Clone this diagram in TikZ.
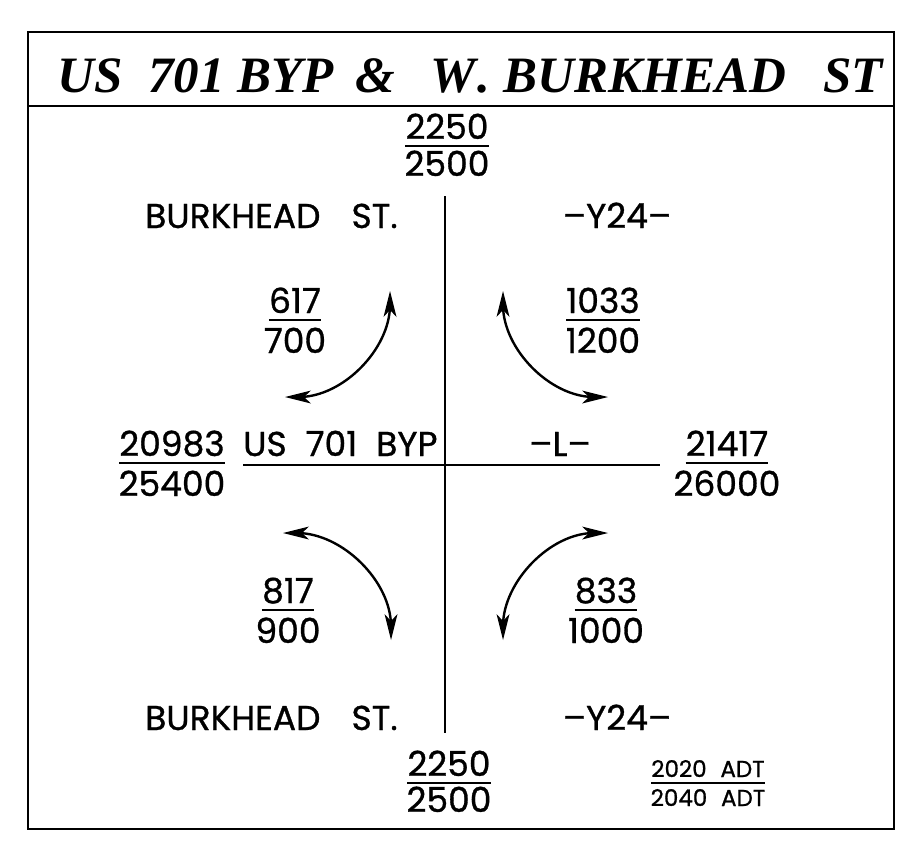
\documentclass[tikz,border=0pt]{standalone}
\usepackage{fontspec}
\setmainfont{Liberation Serif}
\newfontfamily\pop{Poppins}[FakeBold=0.9]
\tikzset{
  road/.style={line width=2.4pt},
  frame/.style={line width=2.6pt},
  lbl/.style={inner sep=0pt, font=\pop\fontsize{34.5}{34.5}\selectfont},
  small/.style={inner sep=0pt, font=\pop\fontsize{23}{23}\selectfont},
  ttl/.style={inner sep=0pt, anchor=base west, font=\bfseries\itshape\fontsize{51}{51}\selectfont},
  bar/.style={line width=1.8pt},
  turn/.style={line width=2.4pt, shorten <=14pt, shorten >=14pt},
  headfill/.style={fill=black}
}
\begin{document}
\begin{tikzpicture}[x=1pt,y=-1pt]
\useasboundingbox (0,0) rectangle (914,846);
% frame
\draw[frame] (28,32) rectangle (894,829);
\draw[frame] (28,106) -- (894,106);
% title
\node[ttl] (t1) at (57,92) {US};
\node[ttl] (t2) at (148,92) {701 BYP};
\node[ttl] (t3) at (355,92) {\&};
\node[ttl] (t4) at (430,92) {W\kern0.04em.};
\node[ttl] (t5) at (503,92) {BURKHEAD};
\node[ttl,anchor=base east] (t6) at (883,92) {ST};
% roads
\coordinate (vt) at (445,196);
\coordinate (vb) at (445,733);
\coordinate (hl) at (243,465);
\coordinate (hr) at (660,465);
\draw[road] (vt) -- (vb);
\draw[road] (hl) -- (hr);
% road labels
\node[lbl,anchor=base west] (bt) at (145,228) {BURKHEAD\hspace{0.9em}ST.};
\node[lbl,anchor=base] (yt) at (617,228) {–Y24–};
\node[lbl,anchor=base west] (us) at (243,456) {US\hspace{0.55em}701\hspace{0.55em}BYP};
\node[lbl,anchor=base] (ll) at (560,456) {–L–};
\node[lbl,anchor=base west] (bb) at (145,730) {BURKHEAD\hspace{0.9em}ST.};
\node[lbl,anchor=base] (yb) at (617,730) {–Y24–};
% volumes
\node[lbl,anchor=base] (n1a) at (447,139) {2250};
\node[lbl,anchor=base] (n1b) at (447,176) {2500};
\node[lbl,anchor=base] (n2a) at (295,313) {617};
\node[lbl,anchor=base] (n2b) at (295,353) {700};
\node[lbl,anchor=base] (n3a) at (603,313) {1033};
\node[lbl,anchor=base] (n3b) at (603,353) {1200};
\node[lbl,anchor=base] (n4a) at (172,456) {20983};
\node[lbl,anchor=base] (n4b) at (172,496) {25400};
\node[lbl,anchor=base] (n5a) at (727,456) {21417};
\node[lbl,anchor=base] (n5b) at (727,496) {26000};
\node[lbl,anchor=base] (n6a) at (288,603) {817};
\node[lbl,anchor=base] (n6b) at (288,643) {900};
\node[lbl,anchor=base] (n7a) at (606,603) {833};
\node[lbl,anchor=base] (n7b) at (606,643) {1000};
\node[lbl,anchor=base] (n8a) at (449,776) {2250};
\node[lbl,anchor=base] (n8b) at (449,812) {2500};
\node[small,anchor=base] (ka) at (708,777) {2020\hspace{0.6em}ADT};
\node[small,anchor=base] (kb) at (708,806) {2040\hspace{0.6em}ADT};
\foreach \n/\d in {n1a/7,n2a/7,n3a/7,n4a/7,n5a/7,n6a/7,n7a/7,n8a/7,ka/6}
  \draw[bar] ([yshift=-\d pt]\n.base west) -- ([yshift=-\d pt]\n.base east);
% turning movements
\coordinate (a1) at (390,291); \coordinate (a2) at (285,397);
\coordinate (b1) at (503,291); \coordinate (b2) at (608,397);
\coordinate (c1) at (283,533); \coordinate (c2) at (391,640);
\coordinate (d1) at (608,533); \coordinate (d2) at (503,640);
\draw[turn] (a1) .. controls +(0,58) and +(58,0) .. (a2);
\draw[turn] (b1) .. controls +(0,58) and +(-58,0) .. (b2);
\draw[turn] (c1) .. controls +(59,0) and +(0,-59) .. (c2);
\draw[turn] (d1) .. controls +(-58,0) and +(0,-58) .. (d2);
% arrow heads
\fill[headfill] (a1) -- ++(-6.5,26) -- ++(6.5,-7) -- ++(6.5,7) -- cycle;
\fill[headfill] (b1) -- ++(-6.5,26) -- ++(6.5,-7) -- ++(6.5,7) -- cycle;
\fill[headfill] (c2) -- ++(-6.5,-26) -- ++(6.5,7) -- ++(6.5,-7) -- cycle;
\fill[headfill] (d2) -- ++(-6.5,-26) -- ++(6.5,7) -- ++(6.5,-7) -- cycle;
\fill[headfill] (a2) -- ++(26,-6.5) -- ++(-7,6.5) -- ++(7,6.5) -- cycle;
\fill[headfill] (c1) -- ++(26,-6.5) -- ++(-7,6.5) -- ++(7,6.5) -- cycle;
\fill[headfill] (b2) -- ++(-26,-6.5) -- ++(7,6.5) -- ++(-7,6.5) -- cycle;
\fill[headfill] (d1) -- ++(-26,-6.5) -- ++(7,6.5) -- ++(-7,6.5) -- cycle;
\end{tikzpicture}
\end{document}
